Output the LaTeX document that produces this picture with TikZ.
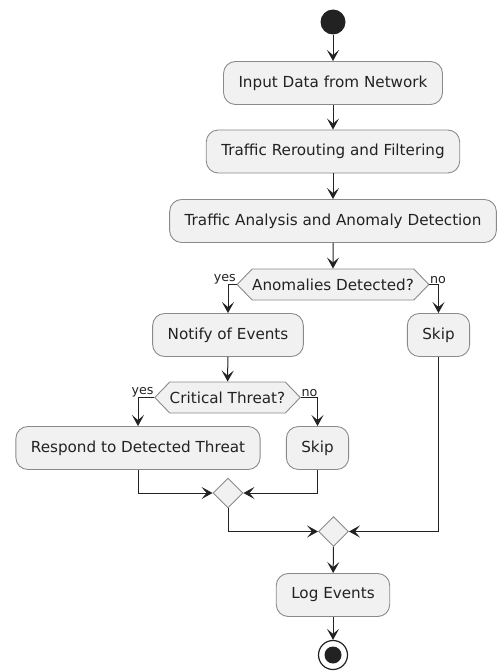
\documentclass[tikz,border=0pt]{standalone}
\usepackage{fontspec}
\setmainfont{DejaVu Sans}
\usetikzlibrary{arrows.meta,shapes.geometric,shapes.symbols}
\definecolor{boxfill}{HTML}{F1F1F1}
\definecolor{boxline}{HTML}{8A8A8A}
\definecolor{ink}{HTML}{222222}
\tikzset{
  act/.style={rectangle, rounded corners=12pt, fill=boxfill, draw=boxline, line width=0.9pt,
    minimum height=43pt, inner xsep=15pt, font=\fontsize{15.2}{18}\selectfont, text=ink},
  hexa/.style={signal, signal to=west and east, signal pointer angle=92, fill=boxfill, draw=boxline,
    line width=0.9pt, minimum height=31pt, inner xsep=0pt, inner ysep=0pt, font=\fontsize{15.2}{18}\selectfont, text=ink},
  merge/.style={diamond, fill=boxfill, draw=boxline, line width=0.9pt, minimum size=30pt, inner sep=0pt},
  flow/.style={draw=ink, line width=1pt, -{Stealth[length=11pt,width=12pt,inset=5pt]}},
  lbl/.style={font=\fontsize{12.7}{14}\selectfont, text=ink, inner sep=0.5pt},
}
\begin{document}
\begin{tikzpicture}[x=1pt,y=-1pt]
\useasboundingbox (0,0) rectangle (500,671);
\node[circle, fill=ink, minimum size=25pt, inner sep=0pt] (start) at (333,22) {};
\node[act] (b1) at (333,83) {Input Data from Network};
\node[act] (b2) at (333,151.5) {Traffic Rerouting and Filtering};
\node[act] (b3) at (333,221) {Traffic Analysis and Anomaly Detection};
\node[hexa] (d1) at (333,284.5) {Anomalies Detected?};
\node[act] (notify) at (228,335) {Notify of Events};
\node[act] (skip1) at (438.5,335) {Skip};
\node[hexa] (d2) at (227.5,397.5) {Critical Threat?};
\node[act] (respond) at (138,448) {Respond to Detected Threat};
\node[act] (skip2) at (317.5,448) {Skip};
\node[merge] (m1) at (228,493) {};
\node[merge] (m2) at (333.5,531.5) {};
\node[act] (log) at (333,595) {Log Events};
\node[circle, draw=ink, line width=1.2pt, fill=white, minimum size=29pt, inner sep=0pt] (end) at (333,655) {};
\node[circle, fill=ink, minimum size=17pt, inner sep=0pt] (endin) at (end.center) {};

\draw[flow] (start) -- (b1);
\draw[flow] (b1) -- (b2);
\draw[flow] (b2) -- (b3);
\draw[flow] (b3) -- (d1);
\draw[flow] (d1.west) -| (notify.north);
\draw[flow] (d1.east) -| (skip1.north);
\node[lbl, anchor=south east] (yes1) at (d1.west) {yes};
\node[lbl, anchor=south west] (no1) at (d1.east) {no};
\draw[flow] (notify) -- (d2);
\draw[flow] (d2.west) -| (respond.north);
\draw[flow] (d2.east) -| (skip2.north);
\node[lbl, anchor=south east] (yes2) at (d2.west) {yes};
\node[lbl, anchor=south west] (no2) at (d2.east) {no};
\draw[flow] (respond.south) |- (m1.west);
\draw[flow] (skip2.south) |- (m1.east);
\draw[flow] (m1.south) |- (m2.west);
\draw[flow] (skip1.south) |- (m2.east);
\draw[flow] (m2) -- (log);
\draw[flow] (log) -- (end);
\end{tikzpicture}
\end{document}
